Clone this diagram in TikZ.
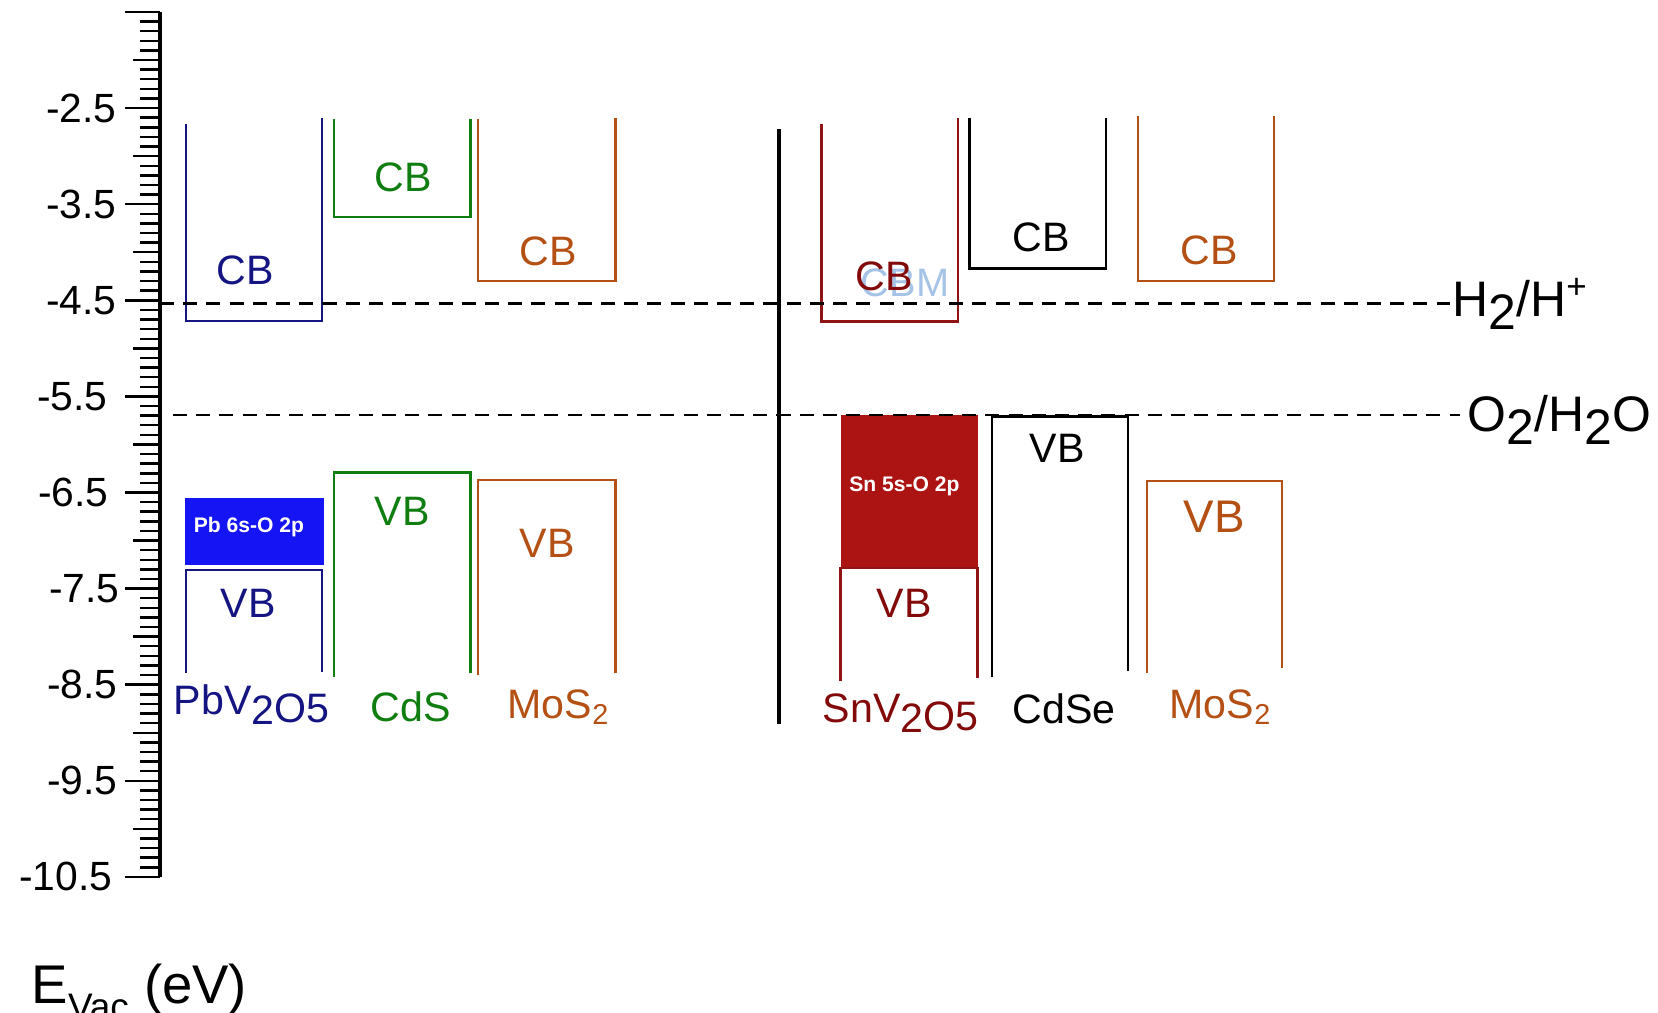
\documentclass[tikz,border=0pt]{standalone}
\usepackage{fontspec}
\setmainfont{Liberation Sans}
\definecolor{navy}{RGB}{20,20,130}
\definecolor{pbfill}{RGB}{20,20,245}
\definecolor{cdsgreen}{RGB}{15,125,15}
\definecolor{mosbrown}{RGB}{180,80,20}
\definecolor{snred}{RGB}{130,10,10}
\definecolor{snline}{RGB}{145,20,20}
\definecolor{snfill}{RGB}{172,20,20}
\definecolor{ghost}{RGB}{165,195,230}
\newcommand\dn[1]{\raisebox{-0.25em}{#1}}
\newcommand\fsz[1]{\fontsize{#1}{#1}\selectfont}
\begin{document}
\begin{tikzpicture}[x=0.01cm,y=-0.01cm,
  band/.style={line width=0.65pt},
  blackband/.style={line width=0.8pt,black},
  tickmark/.style={line width=0.7pt,black},
  axisline/.style={line width=0.9pt,black},
  dashline/.style={line width=0.6pt,black,dash pattern=on 4pt off 2.6pt},
  ticklbl/.style={inner sep=0pt,anchor=east,font=\fsz{11.6}},
  bandlbl/.style={inner sep=0pt,font=\fsz{11.7}},
  matlbl/.style={inner sep=0pt,anchor=base west,font=\fsz{11.7}},
  boxtxt/.style={inner sep=0pt,text=white,font=\bfseries\fsz{6}},
  redox/.style={inner sep=0pt,anchor=base west,font=\fsz{14.2}}]
\useasboundingbox (0,0) rectangle (1658,1013);

% ---- energy axis ----
\draw[axisline] (160,12) -- (160,877);
\foreach \i in {0,...,90}{
  \pgfmathsetmacro\yy{12+\i*9.61}
  \pgfmathtruncatemacro\m{mod(\i,10)}
  \ifnum\m=0 \def\tl{35}\else\ifnum\m=5 \def\tl{27}\else\def\tl{20}\fi\fi
  \draw[tickmark] (160-\tl,\yy) -- (160,\yy);
}
\node[ticklbl] (t1) at (117,108.1) {-2.5};
\node[ticklbl] (t2) at (117,204.2) {-3.5};
\node[ticklbl] (t3) at (117,300.3) {-4.5};
\node[ticklbl] (t4) at (108,396.4) {-5.5};
\node[ticklbl] (t5) at (109,492.5) {-6.5};
\node[ticklbl] (t6) at (120,588.6) {-7.5};
\node[ticklbl] (t7) at (118,684.7) {-8.5};
\node[ticklbl] (t8) at (118,780.8) {-9.5};
\node[ticklbl] (t9) at (113,876.9) {-10.5};
\node[inner sep=0pt,anchor=base west,font=\fsz{15.5}] (evac) at (31,1003)
  {E\raisebox{-0.3em}{\fsz{10.5}Vac} (eV)};

% ---- PbV2O5 ----
\draw[band,navy] (186,124) |- (322,321) -- (322,118);
\fill[pbfill] (185,498) rectangle (324,565);
\draw[band,navy] (186,673) |- (322,570) -- (322,672);
\node[bandlbl,text=navy] (pbcb) at (245,270) {CB};
\node[boxtxt] (pbo) at (249,527) {Pb 6s-O 2p};
\node[bandlbl,text=navy] (pbvb) at (248,603) {VB};
\node[matlbl,text=navy] (pbv) at (173,714) {PbV\dn{2}\raisebox{-0.2em}{O5}};

% ---- CdS ----
\draw[band,cdsgreen] (334,119) |- (470.5,217) -- (470.5,119);
\draw[band,cdsgreen] (334,677) |- (470.5,472.5) -- (470.5,673);
\node[bandlbl,text=cdsgreen] (cdscb) at (403,177) {CB};
\node[bandlbl,text=cdsgreen] (cdsvb) at (402,511) {VB};
\node[matlbl,text=cdsgreen] (cds) at (370,721) {CdS};

% ---- MoS2 (left) ----
\draw[band,mosbrown] (478,119) |- (615.5,281) -- (615.5,118);
\draw[band,mosbrown] (478,675) |- (615.5,480) -- (615.5,673);
\node[bandlbl,text=mosbrown] (mlcb) at (548,251) {CB};
\node[bandlbl,text=mosbrown] (mlvb) at (547,543) {VB};
\node[matlbl,text=mosbrown] (mosl) at (507,718) {MoS\textsubscript{2}};

% ---- separator ----
\draw[line width=0.9pt,black] (779,129) -- (779,724);

% ---- SnV2O5 ----
\draw[band,snline] (821.5,124) |- (958,321.5) -- (958,118);
\fill[snfill] (841,415) rectangle (978,567);
\draw[band,snline] (840.5,681) |- (977.5,568) -- (977.5,678);
\node[inner sep=0pt,text=ghost,font=\fsz{11.3}] (cbm) at (905,283) {CBM};
\node[bandlbl,text=snred] (sncb) at (884,276) {CB};
\node[boxtxt] (sno) at (904.5,486) {Sn 5s-O 2p};
\node[bandlbl,text=snred] (snvb) at (904,603) {VB};
\node[matlbl,text=snred] (snv) at (822,722) {SnV\dn{2}\raisebox{-0.2em}{O5}};

% ---- CdSe ----
\draw[blackband] (969.5,118) |- (1106,268.5) -- (1106,118);
\draw[blackband] (992,677) |- (1128,416.5) -- (1128,671);
\node[bandlbl] (cdsecb) at (1041,237) {CB};
\node[bandlbl] (cdsevb) at (1057,448) {VB};
\node[matlbl] (cdse) at (1012,723) {CdSe};

% ---- MoS2 (right) ----
\draw[band,mosbrown] (1138,116) |- (1274,281) -- (1274,116);
\draw[band,mosbrown] (1147,673) |- (1282,481) -- (1282,668);
\node[bandlbl,text=mosbrown] (mrcb) at (1209,250) {CB};
\node[bandlbl,text=mosbrown,font=\fsz{13}] (mrvb) at (1214,517) {VB};
\node[matlbl,text=mosbrown] (mosr) at (1169,718) {MoS\textsubscript{2}};

% ---- redox levels ----
\draw[dashline] (160,303.5) -- (1450,303.5);
\draw[dashline] (173,415) -- (1460,415);
\node[redox] (hh) at (1452,317) {H\dn{2}/H\textsuperscript{+}};
\node[redox] (oo) at (1467,432) {O\dn{2}/H\dn{2}O};
\end{tikzpicture}
\end{document}
